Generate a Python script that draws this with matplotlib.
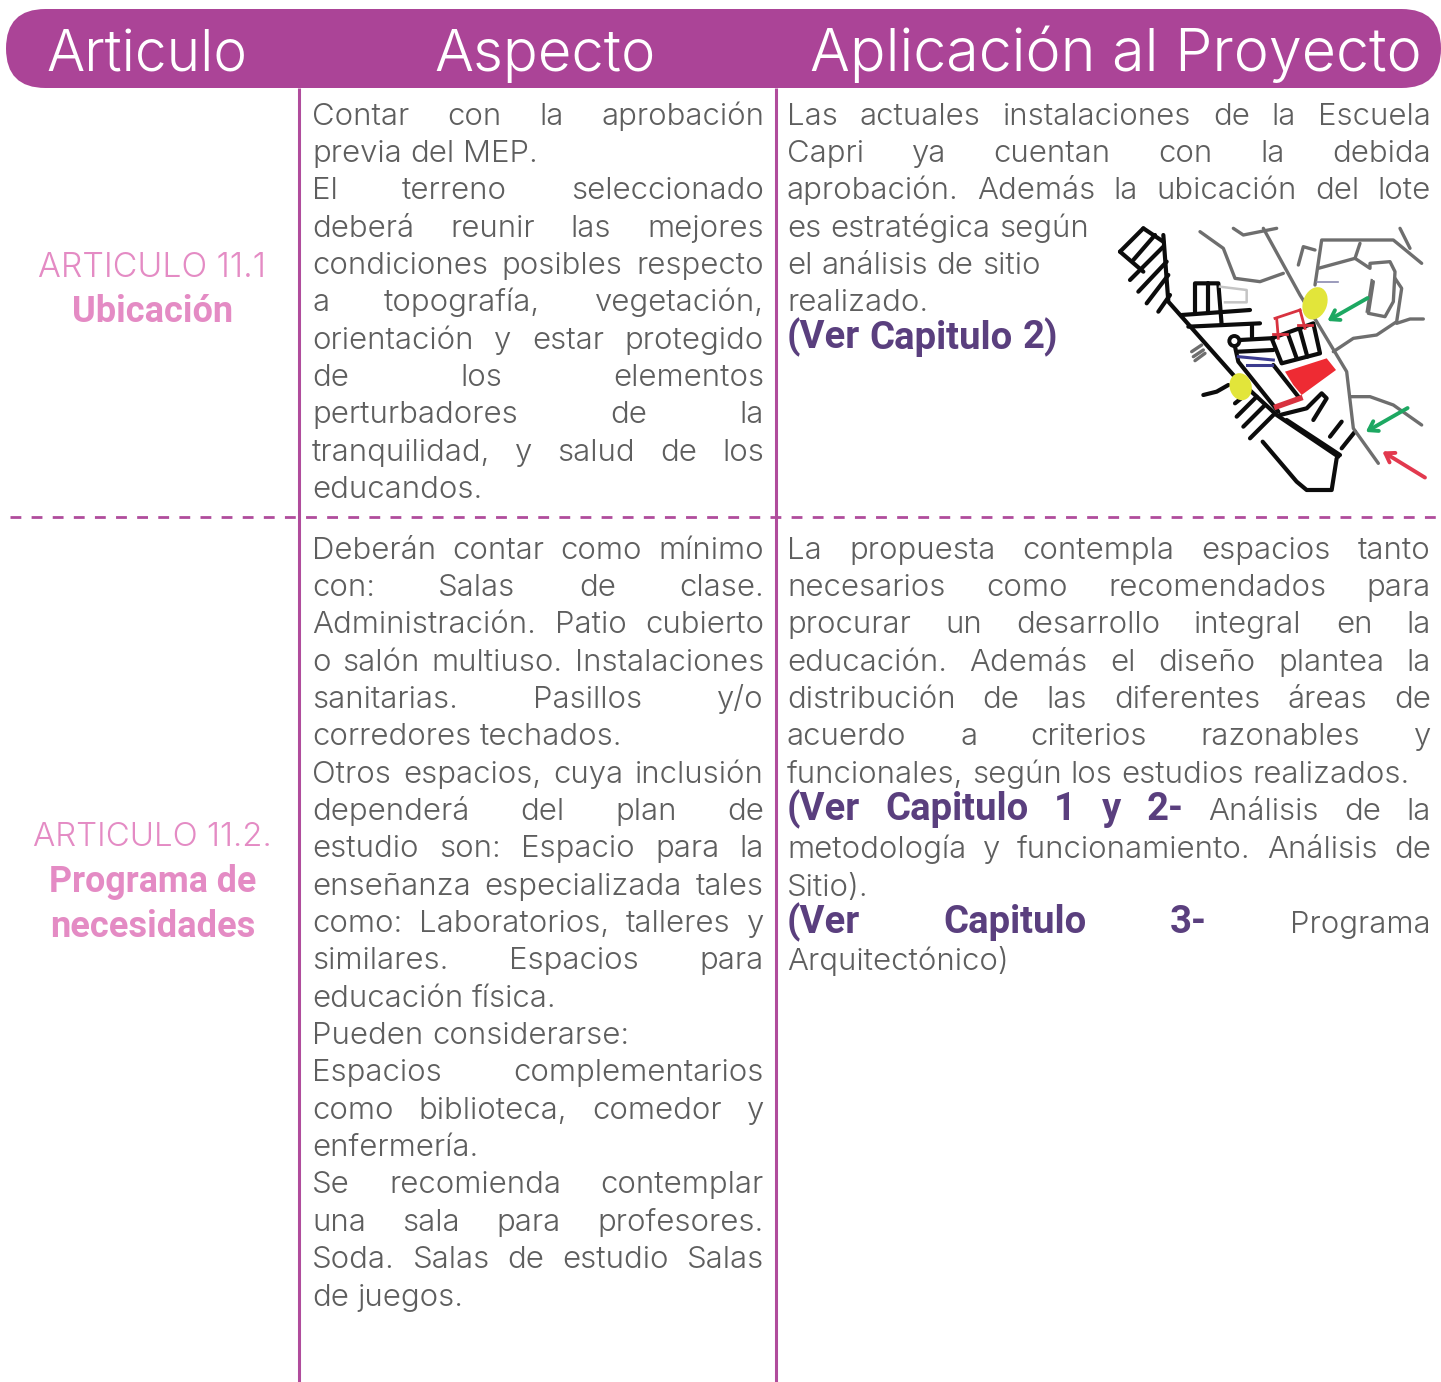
import matplotlib
matplotlib.use('Agg')
import matplotlib.pyplot as plt
from matplotlib.patches import FancyBboxPatch, Ellipse, Polygon, Circle

# ---------- content ----------
HEADERS = ["Articulo", "Aspecto", "Aplicación al Proyecto"]

ARTICLE_1 = ["ARTICULO 11.1", "Ubicación"]
ARTICLE_2 = ["ARTICULO 11.2.", "Programa de", "necesidades"]

# a leading * marks a bold word; a trailing | marks a line that is not justified
ASPECT_1 = [
    "Contar con la aprobación", "previa del MEP.|", "El terreno seleccionado",
    "deberá reunir las mejores", "condiciones posibles respecto",
    "a topografía, vegetación,", "orientación y estar protegido",
    "de los elementos", "perturbadores de la",
    "tranquilidad, y salud de los", "educandos.|",
]
ASPECT_2 = [
    "Deberán contar como mínimo", "con: Salas de clase.",
    "Administración. Patio cubierto", "o salón multiuso. Instalaciones",
    "sanitarias. Pasillos y/o", "corredores techados.|",
    "Otros espacios, cuya inclusión", "dependerá del plan de",
    "estudio son: Espacio para la", "enseñanza especializada tales",
    "como: Laboratorios, talleres y", "similares. Espacios para",
    "educación física.|", "Pueden considerarse:|",
    "Espacios complementarios", "como biblioteca, comedor y",
    "enfermería.|", "Se recomienda contemplar",
    "una sala para profesores.", "Soda. Salas de estudio Salas",
    "de juegos.|",
]
PROJECT_1 = [
    "Las actuales instalaciones de la Escuela", "Capri ya cuentan con la debida",
    "aprobación. Además la ubicación del lote", "es estratégica según|",
    "el análisis de sitio|", "realizado.|",
    "*(Ver *Capitulo *2)|",
]
PROJECT_2 = [
    "La propuesta contempla espacios tanto", "necesarios como recomendados para",
    "procurar un desarrollo integral en la", "educación. Además el diseño plantea la",
    "distribución de las diferentes áreas de", "acuerdo a criterios razonables y",
    "funcionales, según los estudios realizados.|",
    "*(Ver *Capitulo *1 *y *2- Análisis de la",
    "metodología y funcionamiento. Análisis de", "Sitio).|",
    "*(Ver *Capitulo *3- Programa", "Arquitectónico)|",
]

# ---------- palette / layout ----------
PURPLE = '#AB4497'
RULE = '#B04C9C'
PINK = '#E48BC4'
GREY = '#5E5E5E'
VIOLET = '#5A3F7E'
BODY = 22.4
BOLD = 27.5
STEP = 37.35

fig = plt.figure(figsize=(14.41, 13.82), dpi=100)
ax = fig.add_axes([0, 0, 1, 1])
ax.set_xlim(0, 1441)
ax.set_ylim(1382, 0)
ax.axis('off')
rend = fig.canvas.get_renderer()


def width(s, **kw):
    t = ax.text(0, 0, s, **kw)
    w = t.get_window_extent(rend).width
    t.remove()
    return w


def fitted(s, target, **kw):
    return 30 * target / width(s, fontsize=30, **kw)


def style(word):
    if word.startswith('*'):
        return word[1:], dict(family='Roboto', weight=700, fontsize=BOLD, color=VIOLET)
    return word, dict(family='Inter', weight=300, fontsize=BODY, color=GREY)


def draw_line(line, y, x0, x1):
    natural = line.endswith('|')
    words = [style(w) for w in line.rstrip('|').split()]
    widths = [width(w, **k) for w, k in words]
    space = width('a a', **words[0][1]) - width('aa', **words[0][1])
    gap = space if natural or len(words) == 1 else (x1 - x0 - sum(widths)) / (len(words) - 1)
    x = x0
    for (w, k), wd in zip(words, widths):
        ax.text(x, y, w, va='baseline', ha='left', **k)
        x += wd + gap


def draw_block(lines, y0, x0, x1, offsets=None):
    for i, line in enumerate(lines):
        y = y0 + i * STEP + (offsets or {}).get(i, 0)
        draw_line(line, y, x0, x1)


# ---------- frame ----------
ax.add_patch(FancyBboxPatch((6, 9), 1435, 79, boxstyle='round,pad=0,rounding_size=39.5',
                            fc=PURPLE, ec='none', mutation_aspect=1, zorder=1))
for x in (299, 776):
    ax.plot([x, x], [88, 1382], color=RULE, lw=2.2, solid_capstyle='butt', zorder=2)
ax.plot([10, 1440], [517, 517], color=RULE, lw=2.0, dashes=(3.9, 3.7), zorder=1.5)

# ---------- header ----------
head = dict(family='Inter', weight=300, color='white', va='baseline', ha='center', zorder=3)
meas = dict(family='Inter', weight=300)
for s, cx, w in zip(HEADERS, (146.5, 545.5, 1116), (201, 221, 612)):
    ax.text(cx, 71, s, fontsize=fitted(s, w, **meas), **head)

# ---------- first column ----------
light = dict(family='Inter', weight=300)
heavy = dict(family='Roboto', weight=700)
col = dict(color=PINK, ha='center', va='baseline')
ax.text(152, 277, ARTICLE_1[0], fontsize=fitted(ARTICLE_1[0], 228, **light), **light, **col)
ax.text(152.5, 322, ARTICLE_1[1], fontsize=fitted(ARTICLE_1[1], 161, **heavy), **heavy, **col)
ax.text(152.5, 846, ARTICLE_2[0], fontsize=fitted(ARTICLE_2[0], 239, **light), **light, **col)
ax.text(152.5, 892, ARTICLE_2[1], fontsize=fitted(ARTICLE_2[1], 207, **heavy), **heavy, **col)
ax.text(152.5, 937, ARTICLE_2[2], fontsize=fitted(ARTICLE_2[2], 205, **heavy), **heavy, **col)

# ---------- body ----------
draw_block(ASPECT_1, 124.5, 312, 764)
draw_block(ASPECT_2, 558.5, 312, 764)
draw_block(PROJECT_1, 124.5, 787, 1431, {6: 0})
draw_block(PROJECT_2, 558.5, 787, 1431, {7: 0, 8: 1, 9: 1, 10: 1, 11: 1})

# ---------- location sketch (drawn in its own pixel frame) ----------
mp = fig.add_axes([1100 / 1441, 1 - (215 + 285) / 1382, 341 / 1441, 285 / 1382])
mp.set_xlim(0, 1023)
mp.set_ylim(855, 0)
mp.axis('off')

BLACK_STREETS = [
    [(190, 60), (205, 260), (400, 480), (530, 600), (715, 725)],
    [(60, 110), (130, 40)], [(60, 110), (130, 170)], [(130, 40), (190, 80)],
    [(100, 135), (165, 60)], [(90, 195), (190, 95)], [(115, 230), (200, 140)],
    [(140, 265), (205, 180)], [(175, 290), (210, 240)],
    [(285, 290), (285, 205), (355, 205), (365, 330)], [(325, 205), (325, 290)],
    [(245, 300), (450, 285)], [(265, 335), (480, 325)], [(455, 330), (455, 365)],
    [(420, 375), (510, 370)], [(405, 395), (415, 440), (535, 590)],
    [(415, 410), (520, 405)],
    [(515, 370), (545, 445), (660, 415), (640, 325), (515, 370)],
    [(565, 360), (590, 430)], [(600, 345), (622, 425)],
    [(520, 450), (595, 545)], [(310, 540), (350, 530), (385, 510)],
    [(405, 565), (430, 545)], [(410, 605), (470, 545)], [(430, 635), (495, 570)],
    [(450, 670), (520, 600)],
    [(560, 615), (720, 720)],
    [(540, 600), (620, 580), (665, 535), (680, 550), (640, 615)],
    [(690, 665), (725, 620)], [(725, 700), (765, 650)],
    [(488, 680), (590, 800), (620, 825), (695, 825), (710, 730)],
]
GREY_ROADS = [
    [(490, 40), (600, 240), (650, 320), (740, 470), (760, 640), (835, 745)],
    [(300, 50), (370, 100), (405, 190), (480, 200), (550, 175)],
    [(400, 40), (430, 60), (530, 40)],
    [(595, 150), (610, 95), (645, 105)],
    [(645, 210), (665, 75), (880, 75), (965, 145)], [(900, 40), (930, 100)],
    [(780, 85), (765, 130), (655, 160)],
    [(765, 130), (810, 160), (810, 145), (870, 140), (885, 170), (880, 260),
     (855, 305), (805, 295), (820, 200)],
    [(885, 190), (905, 220), (890, 320), (830, 360), (760, 370), (700, 410)],
    [(890, 325), (930, 312), (970, 312)],
    [(750, 545), (810, 545), (880, 570), (965, 630)],
    [(275, 410), (305, 390)], [(280, 425), (310, 405)], [(285, 437), (315, 415)],
]
for pts in BLACK_STREETS:
    mp.plot(*zip(*pts), color='#0c0c0c', lw=3.0, solid_joinstyle='round', solid_capstyle='round')
for pts in GREY_ROADS:
    mp.plot(*zip(*pts), color='#6e6e6e', lw=2.4, solid_joinstyle='round', solid_capstyle='round')
mp.plot([360, 440, 440, 375], [215, 225, 262, 262], color='#c4c4c4', lw=1.8)
mp.plot([650, 715], [200, 200], color='#8a8ab0', lw=1.2)
mp.add_patch(Circle((403, 378), 15, fc='white', ec='#0c0c0c', lw=2.8, zorder=3))
for pts in ([(415, 425), (520, 435)], [(440, 450), (515, 450)]):
    mp.plot(*zip(*pts), color='#3b3b8f', lw=2.2)
mp.add_patch(Polygon([(555, 470), (680, 430), (708, 465), (605, 540), (580, 510)],
                     fc='#EE2B33', ec='none', zorder=3))
for pts in ([(525, 310), (600, 285)], [(530, 310), (535, 370)], [(600, 285), (615, 340)],
            [(520, 358), (560, 358)], [(595, 330), (635, 330)]):
    mp.plot(*zip(*pts), color='#D8323F', lw=2.0, zorder=4)
mp.plot([530, 600], [575, 550], color='#D8323F', lw=4, zorder=4)
mp.add_patch(Ellipse((645, 265), 72, 100, angle=20, fc='#E2E53A', ec='none', zorder=4))
mp.add_patch(Ellipse((422, 515), 66, 82, angle=-15, fc='#E2E53A', ec='none', zorder=4))
mp.plot([815, 800], [195, 290], color='#6e6e6e', lw=1.6)
for tail, tip, c in (((810, 245), (675, 322), '#1DA862'), ((930, 575), (790, 655), '#1DA862'),
                     ((982, 792), (840, 705), '#E2394E')):
    mp.annotate('', xy=tip, xytext=tail,
                arrowprops=dict(arrowstyle='->,head_length=0.6,head_width=0.4', color=c, lw=2.8))

fig.savefig('out.png', dpi=100, facecolor='white')
